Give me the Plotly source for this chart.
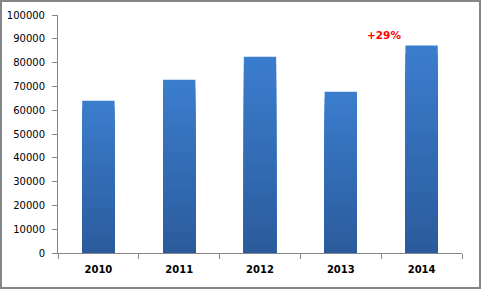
import plotly.graph_objects as go

years = ["2010", "2011", "2012", "2013", "2014"]
values = [64000, 72800, 82500, 67800, 87200]
y_ticks = [0, 10000, 20000, 30000, 40000, 50000, 60000, 70000, 80000, 90000, 100000]
note_text = "+29%"

W, H = 481, 289
L, R, T, B = 58, 19, 15, 36

top_rgb = (59, 125, 205)
bot_rgb = (43, 90, 155)
N = 24

fig = go.Figure()
for k in range(N):
    frac = 1 - k / N
    c = tuple(round(bot_rgb[i] + (top_rgb[i] - bot_rgb[i]) * frac) for i in range(3))
    fig.add_trace(go.Bar(
        x=years, y=[v * frac for v in values],
        marker=dict(color="rgb(%d,%d,%d)" % c, line=dict(width=0)),
        width=0.4, showlegend=False, hoverinfo="skip" if k else None,
    ))

fig.add_annotation(x=3.53, y=91700, text="<b>" + note_text + "</b>", showarrow=False,
                   font=dict(family="DejaVu Sans", size=10.5, color="#ff0000"),
                   xanchor="center", yanchor="middle")

pw = W - L - R
ph = H - T - B
fig.add_shape(type="rect", xref="paper", yref="paper",
              x0=-(L - 1) / pw, x1=1 + (R - 1) / pw,
              y0=-(B - 1) / ph, y1=1 + (T - 1) / ph,
              line=dict(color="#868686", width=2))

fig.update_layout(
    width=W, height=H, margin=dict(l=L, r=R, t=T, b=B, autoexpand=False),
    paper_bgcolor="white", plot_bgcolor="white",
    barmode="overlay", bargap=0.6,
    font=dict(family="DejaVu Sans", size=10, color="black"),
    xaxis=dict(type="category", showline=True, linecolor="#868686", linewidth=1,
               ticks="outside", tickson="boundaries", ticklen=5, tickcolor="#868686",
               ticklabelstandoff=7, automargin=False,
               tickfont=dict(family="DejaVu Sans", size=10, weight="bold"),
               showgrid=False, zeroline=False, fixedrange=True),
    yaxis=dict(range=[0, 100000], tickvals=y_ticks, showline=True, linecolor="#868686",
               linewidth=1, ticks="outside", ticklen=5, tickcolor="#868686",
               ticklabelstandoff=5, automargin=False,
               showgrid=False, zeroline=False, tickformat="d",
               tickfont=dict(family="DejaVu Sans", size=10)),
)

fig.write_html("out.html")
